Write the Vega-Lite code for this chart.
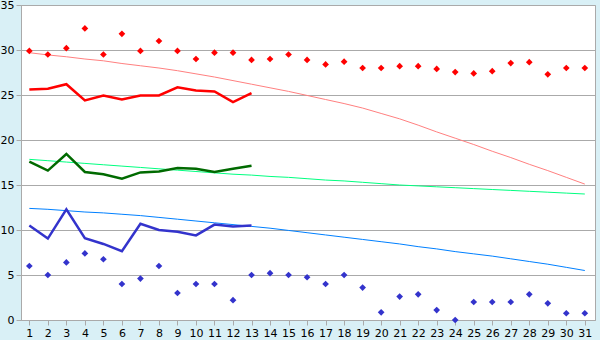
{
  "$schema": "https://vega.github.io/schema/vega-lite/v6.json",
  "width": 574,
  "height": 315,
  "autosize": {"type": "none"},
  "padding": {"left": 21, "top": 5, "right": 5, "bottom": 20},
  "background": "#d9f0f6",
  "config": {
    "view": {"fill": "#ffffff", "stroke": "#aaaaaa", "strokeWidth": 1},
    "axis": {"labelFont": "DejaVu Sans", "labelFontSize": 11, "labelColor": "#000000", "domainColor": "#aaaaaa", "tickColor": "#aaaaaa", "gridColor": "#aaaaaa", "gridOpacity": 1, "tickSize": 5, "labelPadding": 2},
    "axisY": {"values": [0,5,10,15,20,25,30,35], "grid": true, "title": null}
  },
  "data": {"values": [
    {"day": 1, "rMax": 29.9, "rAvg": 25.6, "rTr": 29.7, "gAvg": 17.6, "gTr": 17.85, "bAvg": 10.5, "bTr": 12.4, "bMin": 6.0},
    {"day": 2, "rMax": 29.5, "rAvg": 25.7, "rTr": 29.45, "gAvg": 16.6, "gTr": 17.7, "bAvg": 9.05, "bTr": 12.3, "bMin": 5.0},
    {"day": 3, "rMax": 30.2, "rAvg": 26.2, "rTr": 29.25, "gAvg": 18.45, "gTr": 17.55, "bAvg": 12.3, "bTr": 12.15, "bMin": 6.4},
    {"day": 4, "rMax": 32.4, "rAvg": 24.4, "rTr": 29.0, "gAvg": 16.45, "gTr": 17.4, "bAvg": 9.1, "bTr": 12.0, "bMin": 7.4},
    {"day": 5, "rMax": 29.5, "rAvg": 24.95, "rTr": 28.8, "gAvg": 16.2, "gTr": 17.25, "bAvg": 8.45, "bTr": 11.9, "bMin": 6.75},
    {"day": 6, "rMax": 31.8, "rAvg": 24.5, "rTr": 28.5, "gAvg": 15.7, "gTr": 17.1, "bAvg": 7.65, "bTr": 11.75, "bMin": 4.0},
    {"day": 7, "rMax": 29.9, "rAvg": 24.95, "rTr": 28.25, "gAvg": 16.4, "gTr": 16.95, "bAvg": 10.7, "bTr": 11.6, "bMin": 4.6},
    {"day": 8, "rMax": 31.0, "rAvg": 24.95, "rTr": 28.0, "gAvg": 16.5, "gTr": 16.8, "bAvg": 10.0, "bTr": 11.4, "bMin": 6.0},
    {"day": 9, "rMax": 29.9, "rAvg": 25.85, "rTr": 27.7, "gAvg": 16.9, "gTr": 16.65, "bAvg": 9.8, "bTr": 11.2, "bMin": 3.0},
    {"day": 10, "rMax": 29.0, "rAvg": 25.5, "rTr": 27.35, "gAvg": 16.8, "gTr": 16.5, "bAvg": 9.4, "bTr": 11.0, "bMin": 4.0},
    {"day": 11, "rMax": 29.7, "rAvg": 25.4, "rTr": 27.0, "gAvg": 16.45, "gTr": 16.35, "bAvg": 10.6, "bTr": 10.8, "bMin": 4.0},
    {"day": 12, "rMax": 29.7, "rAvg": 24.2, "rTr": 26.6, "gAvg": 16.8, "gTr": 16.2, "bAvg": 10.4, "bTr": 10.6, "bMin": 2.2},
    {"day": 13, "rMax": 28.9, "rAvg": 25.2, "rTr": 26.2, "gAvg": 17.15, "gTr": 16.1, "bAvg": 10.5, "bTr": 10.4, "bMin": 5.0},
    {"day": 14, "rMax": 29.0, "rAvg": null, "rTr": 25.8, "gAvg": null, "gTr": 15.95, "bAvg": null, "bTr": 10.2, "bMin": 5.2},
    {"day": 15, "rMax": 29.5, "rAvg": null, "rTr": 25.4, "gAvg": null, "gTr": 15.85, "bAvg": null, "bTr": 9.95, "bMin": 5.0},
    {"day": 16, "rMax": 28.9, "rAvg": null, "rTr": 24.95, "gAvg": null, "gTr": 15.7, "bAvg": null, "bTr": 9.7, "bMin": 4.75},
    {"day": 17, "rMax": 28.4, "rAvg": null, "rTr": 24.5, "gAvg": null, "gTr": 15.55, "bAvg": null, "bTr": 9.45, "bMin": 4.0},
    {"day": 18, "rMax": 28.7, "rAvg": null, "rTr": 24.05, "gAvg": null, "gTr": 15.45, "bAvg": null, "bTr": 9.2, "bMin": 5.0},
    {"day": 19, "rMax": 28.0, "rAvg": null, "rTr": 23.55, "gAvg": null, "gTr": 15.3, "bAvg": null, "bTr": 8.95, "bMin": 3.6},
    {"day": 20, "rMax": 28.0, "rAvg": null, "rTr": 22.95, "gAvg": null, "gTr": 15.15, "bAvg": null, "bTr": 8.7, "bMin": 0.85},
    {"day": 21, "rMax": 28.2, "rAvg": null, "rTr": 22.35, "gAvg": null, "gTr": 15.0, "bAvg": null, "bTr": 8.45, "bMin": 2.6},
    {"day": 22, "rMax": 28.2, "rAvg": null, "rTr": 21.65, "gAvg": null, "gTr": 14.9, "bAvg": null, "bTr": 8.15, "bMin": 2.85},
    {"day": 23, "rMax": 27.9, "rAvg": null, "rTr": 20.9, "gAvg": null, "gTr": 14.8, "bAvg": null, "bTr": 7.9, "bMin": 1.1},
    {"day": 24, "rMax": 27.55, "rAvg": null, "rTr": 20.2, "gAvg": null, "gTr": 14.7, "bAvg": null, "bTr": 7.6, "bMin": 0.0},
    {"day": 25, "rMax": 27.4, "rAvg": null, "rTr": 19.5, "gAvg": null, "gTr": 14.6, "bAvg": null, "bTr": 7.35, "bMin": 2.0},
    {"day": 26, "rMax": 27.65, "rAvg": null, "rTr": 18.75, "gAvg": null, "gTr": 14.5, "bAvg": null, "bTr": 7.1, "bMin": 2.0},
    {"day": 27, "rMax": 28.55, "rAvg": null, "rTr": 18.05, "gAvg": null, "gTr": 14.4, "bAvg": null, "bTr": 6.8, "bMin": 2.0},
    {"day": 28, "rMax": 28.65, "rAvg": null, "rTr": 17.3, "gAvg": null, "gTr": 14.3, "bAvg": null, "bTr": 6.5, "bMin": 2.85},
    {"day": 29, "rMax": 27.3, "rAvg": null, "rTr": 16.6, "gAvg": null, "gTr": 14.2, "bAvg": null, "bTr": 6.2, "bMin": 1.85},
    {"day": 30, "rMax": 28.0, "rAvg": null, "rTr": 15.85, "gAvg": null, "gTr": 14.1, "bAvg": null, "bTr": 5.85, "bMin": 0.75},
    {"day": 31, "rMax": 28.0, "rAvg": null, "rTr": 15.1, "gAvg": null, "gTr": 14.0, "bAvg": null, "bTr": 5.5, "bMin": 0.75}
  ]},
  "encoding": {
    "x": {
      "field": "day", "type": "quantitative",
      "scale": {"domain": [0.55, 31.55], "nice": false, "zero": false},
      "axis": {"values": [1,2,3,4,5,6,7,8,9,10,11,12,13,14,15,16,17,18,19,20,21,22,23,24,25,26,27,28,29,30,31], "grid": false, "labelFlush": false, "format": "d", "title": null}
    }
  },
  "layer": [
    {
      "mark": {"type": "line", "color": "#ff8080", "strokeWidth": 1},
      "encoding": {"y": {"field": "rTr", "type": "quantitative", "scale": {"domain": [0, 35], "nice": false}, "title": null}}
    },
    {"mark": {"type": "line", "color": "#00ff80", "strokeWidth": 1}, "encoding": {"y": {"field": "gTr", "type": "quantitative", "title": null}}},
    {"mark": {"type": "line", "color": "#0080ff", "strokeWidth": 1}, "encoding": {"y": {"field": "bTr", "type": "quantitative", "title": null}}},
    {"mark": {"type": "line", "color": "#ff0000", "strokeWidth": 2.5}, "encoding": {"y": {"field": "rAvg", "type": "quantitative", "title": null}}},
    {"mark": {"type": "line", "color": "#006a00", "strokeWidth": 2.5}, "encoding": {"y": {"field": "gAvg", "type": "quantitative", "title": null}}},
    {"mark": {"type": "line", "color": "#3333cc", "strokeWidth": 2.5}, "encoding": {"y": {"field": "bAvg", "type": "quantitative", "title": null}}},
    {"mark": {"type": "point", "shape": "diamond", "filled": true, "color": "#ff0000", "size": 45, "opacity": 1}, "encoding": {"y": {"field": "rMax", "type": "quantitative", "title": null}}},
    {"mark": {"type": "point", "shape": "diamond", "filled": true, "color": "#3333cc", "size": 45, "opacity": 1}, "encoding": {"y": {"field": "bMin", "type": "quantitative", "title": null}}}
  ]
}
